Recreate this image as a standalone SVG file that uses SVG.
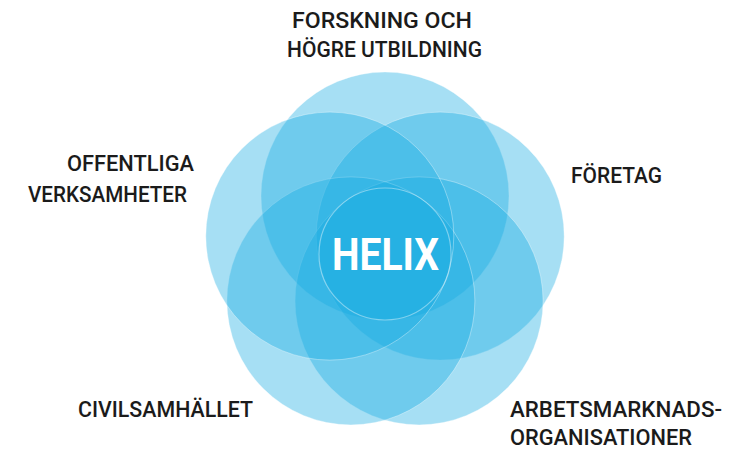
<svg xmlns="http://www.w3.org/2000/svg" width="729" height="450" viewBox="0 0 729 450">
<style>
.c{fill:#14aae1;fill-opacity:0.38;stroke:#ffffff;stroke-opacity:0.35;stroke-width:1}
.lbl{font-family:Roboto,"Liberation Sans",sans-serif;font-weight:500;font-size:22.5px;fill:#1b1b1b}
.hx{font-family:Roboto,"Liberation Sans",sans-serif;font-weight:700;font-size:45px;fill:#ffffff}
</style>
<rect width="729" height="450" fill="#ffffff"/>
<g id="circles">
<circle id="c-top" class="c" cx="385" cy="196" r="124"/>
<circle id="c-ur" class="c" cx="440.2" cy="236.1" r="124"/>
<circle id="c-lr" class="c" cx="419.1" cy="300.9" r="124"/>
<circle id="c-ll" class="c" cx="350.9" cy="300.9" r="124"/>
<circle id="c-ul" class="c" cx="329.8" cy="236.1" r="124"/>
</g>
<g id="center">
<circle cx="385" cy="254" r="66" fill="#14aae1" fill-opacity="0.12" stroke="#ffffff" stroke-opacity="0.4" stroke-width="1.2"/>
<text class="hx" x="332" y="270" textLength="107" lengthAdjust="spacingAndGlyphs">HELIX</text>
</g>
<g id="n-forskning">
<text class="lbl" x="292" y="28" textLength="180" lengthAdjust="spacingAndGlyphs">FORSKNING OCH</text>
<text class="lbl" x="287" y="57" textLength="195" lengthAdjust="spacingAndGlyphs">HÖGRE UTBILDNING</text>
</g>
<g id="n-offentliga">
<text class="lbl" x="67" y="171" textLength="127" lengthAdjust="spacingAndGlyphs">OFFENTLIGA</text>
<text class="lbl" x="28" y="202" textLength="159" lengthAdjust="spacingAndGlyphs">VERKSAMHETER</text>
</g>
<g id="n-foretag">
<text class="lbl" x="571" y="183" textLength="91" lengthAdjust="spacingAndGlyphs">FÖRETAG</text>
</g>
<g id="n-civil">
<text class="lbl" x="78" y="417" textLength="175" lengthAdjust="spacingAndGlyphs">CIVILSAMHÄLLET</text>
</g>
<g id="n-arbets">
<text class="lbl" x="510" y="417" textLength="212" lengthAdjust="spacingAndGlyphs">ARBETSMARKNADS-</text>
<text class="lbl" x="510" y="445" textLength="182" lengthAdjust="spacingAndGlyphs">ORGANISATIONER</text>
</g>
<g id="connectors"></g>
</svg>
